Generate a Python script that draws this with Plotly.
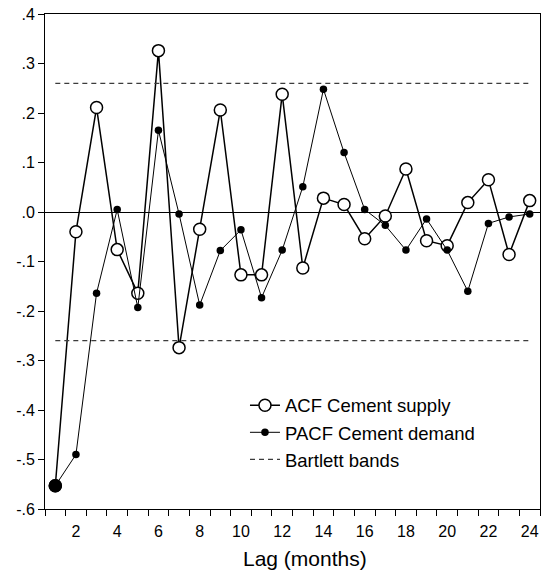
import plotly.graph_objects as go

lags = list(range(1, 25))
acf_supply = [-0.553, -0.040, 0.211, -0.076, -0.164, 0.326, -0.274, -0.035, 0.206, -0.127,
              -0.127, 0.238, -0.113, 0.028, 0.015, -0.054, -0.008, 0.087, -0.058, -0.068,
              0.019, 0.065, -0.086, 0.023]
pacf_demand = [-0.553, -0.490, -0.164, 0.005, -0.193, 0.165, -0.004, -0.188, -0.078, -0.036,
               -0.173, -0.077, 0.051, 0.248, 0.120, 0.005, -0.027, -0.077, -0.014, -0.077,
               -0.160, -0.023, -0.010, -0.004]
bartlett = 0.26
ytick_vals = [-0.6, -0.5, -0.4, -0.3, -0.2, -0.1, 0.0, 0.1, 0.2, 0.3, 0.4]
ytick_text = ["-.6", "-.5", "-.4", "-.3", "-.2", "-.1", ".0", ".1", ".2", ".3", ".4"]
xtick_vals = list(range(2, 25, 2))
series_names = ["ACF Cement supply", "PACF Cement demand", "Bartlett bands"]
x_title = "Lag (months)"

FONT = "Liberation Sans, Arial, sans-serif"

fig = go.Figure()
fig.add_trace(go.Scatter(
    x=lags, y=acf_supply, mode="lines+markers", name=series_names[0],
    line=dict(color="black", width=1.5),
    marker=dict(symbol="circle", size=12, color="white", line=dict(color="black", width=1.5)),
))
fig.add_trace(go.Scatter(
    x=lags, y=pacf_demand, mode="lines+markers", name=series_names[1],
    line=dict(color="black", width=1),
    marker=dict(symbol="circle", size=7.5, color="black", line=dict(color="black", width=0)),
))
# overlapping first lag where both series coincide (drawn as a solid dot)
fig.add_trace(go.Scatter(
    x=lags[:1], y=acf_supply[:1], mode="markers", showlegend=False, hoverinfo="skip",
    marker=dict(symbol="circle", size=12, color="black", line=dict(color="black", width=1.5)),
))
band_x = lags + [None] + lags
band_y = [bartlett] * len(lags) + [None] + [-bartlett] * len(lags)
fig.add_trace(go.Scatter(
    x=band_x, y=band_y, mode="lines", name=series_names[2],
    line=dict(color="#3c3c3c", width=1.3, dash="5px,4px"),
    connectgaps=False,
))

fig.update_layout(
    width=542, height=571,
    margin=dict(l=45, r=2, t=14, b=62),
    paper_bgcolor="white", plot_bgcolor="white",
    font=dict(family=FONT, color="black", size=16),
    showlegend=True,
    legend=dict(x=0.404, y=0.247, xanchor="left", yanchor="top",
                bgcolor="rgba(0,0,0,0)", font=dict(size=18.5, family=FONT, color="black"),
                borderwidth=0),
    annotations=[dict(
        text=x_title, xref="paper", yref="paper", x=0.526, y=-0.1003,
        xanchor="center", yanchor="middle", showarrow=False,
        font=dict(size=21, family=FONT, color="black"),
    )],
)
fig.update_xaxes(
    range=[0.5, 24.5], tickmode="array", tickvals=xtick_vals,
    ticks="outside", ticklen=8, tickcolor="rgba(0,0,0,0)",
    showgrid=False, zeroline=False,
    showline=True, linecolor="black", linewidth=1, mirror=True,
    tickfont=dict(size=16, family=FONT, color="black"),
    minor=dict(tickmode="linear", tick0=0.5, dtick=1, ticks="outside", ticklen=6,
               tickcolor="black", tickwidth=1, showgrid=False),
)
fig.update_yaxes(
    range=[-0.6, 0.4], tickmode="array", tickvals=ytick_vals, ticktext=ytick_text,
    ticks="outside", ticklen=6, tickcolor="black", tickwidth=1,
    showgrid=False, zeroline=True, zerolinecolor="black", zerolinewidth=1,
    showline=True, linecolor="black", linewidth=1, mirror=True,
    tickfont=dict(size=16, family=FONT, color="black"),
)

fig.write_html("out.html")
